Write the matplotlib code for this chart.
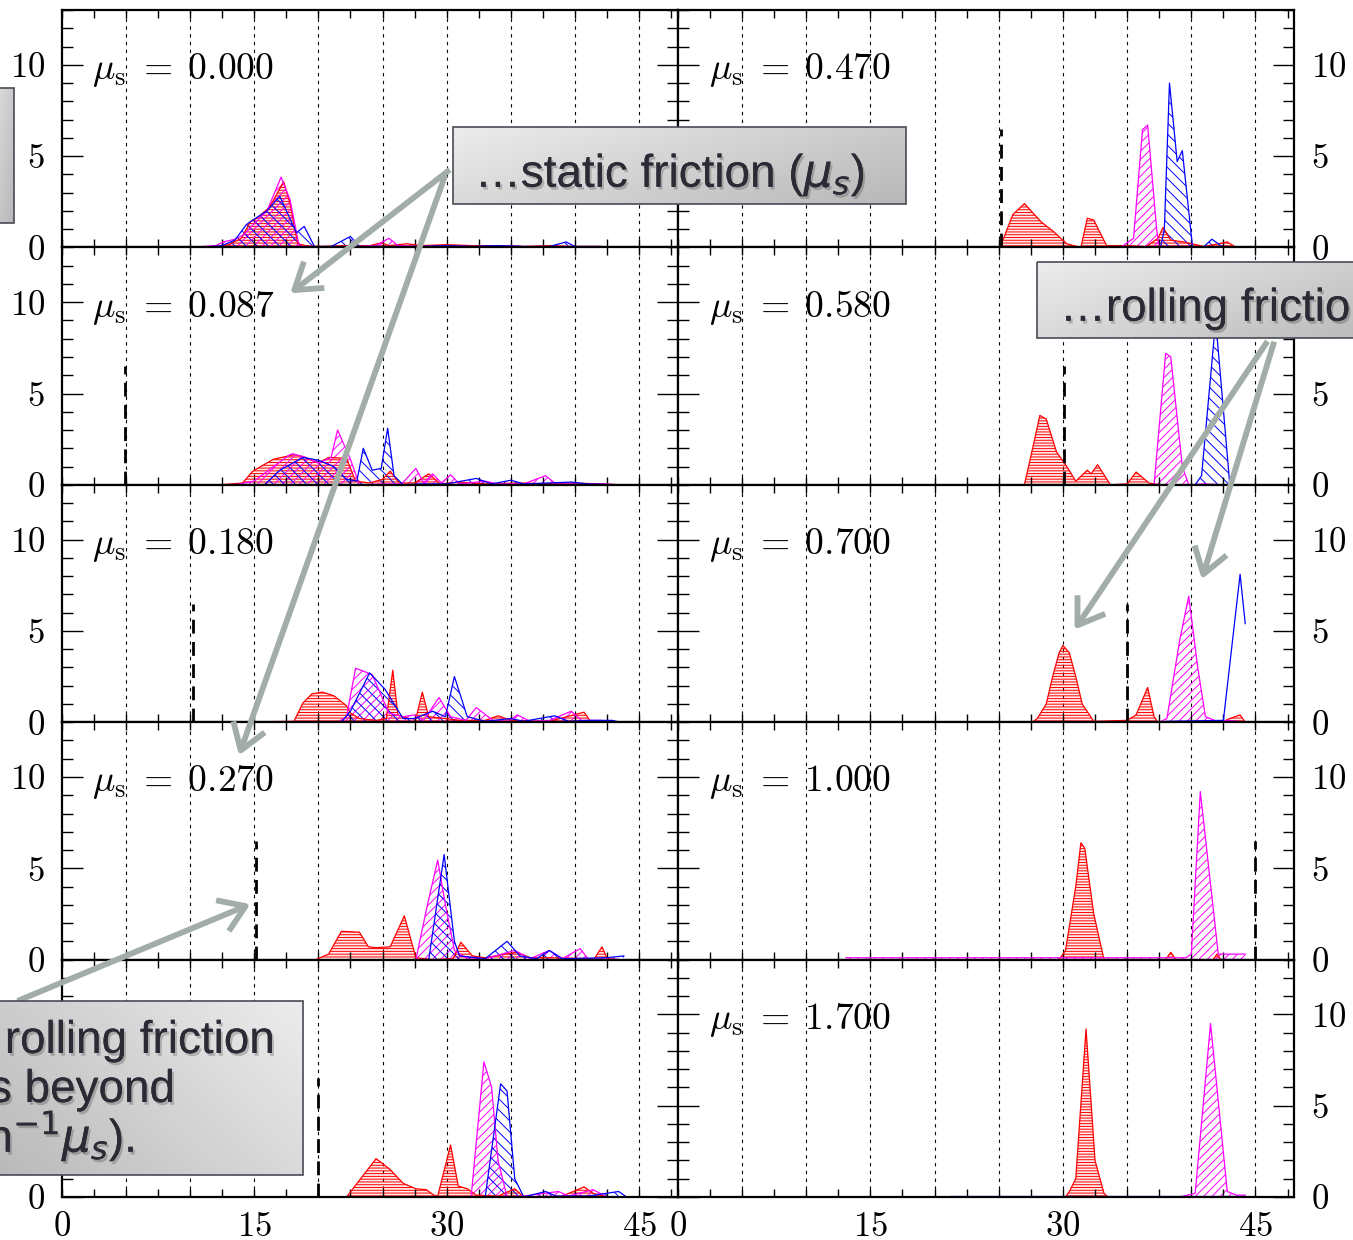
import numpy as np
import matplotlib
matplotlib.use("Agg")
from matplotlib import pyplot as plt
from matplotlib.patches import Rectangle, FancyArrowPatch
from matplotlib.colors import LinearSegmentedColormap
import matplotlib.patheffects as pe

plt.rcParams['font.family'] = 'cmr10'
plt.rcParams['mathtext.fontset'] = 'cm'
plt.rcParams['axes.formatter.use_mathtext'] = True
plt.rcParams['hatch.linewidth'] = 0.7

# static friction of each panel (left column top->bottom, then right column)
mu_s = [0.000, 0.087, 0.180, 0.270, 0.364, 0.470, 0.580, 0.700, 1.000, 1.700]
mu_labels = ["0.000", "0.087", "0.180", "0.270", None,
             "0.470", "0.580", "0.700", "1.000", "1.700"]

# histograms: (angle in degrees, count)
red_000 = [(10, 0), (12, 0.05), (13, 0.15), (14, 0.5), (14.7, 1.4), (15.2, 1.6), (16.2, 2.2),
           (17.3, 3.6), (17.8, 2.4), (18.4, 0.2), (19, 0.1), (20, 0.05), (22, 0.1), (24, 0.1),
           (24.9, 0.25), (25.5, 0.1), (26.9, 0.2), (28, 0.1), (30, 0.15), (32, 0.1), (34, 0.1),
           (36, 0.05), (38, 0.1), (40, 0.05), (42, 0.05), (43, 0)]
mag_000 = [(10, 0), (12, 0.1), (12.6, 0.3), (13.5, 0.45), (14.2, 0.7), (15, 1.3), (16, 2.0),
           (17.1, 3.85), (17.8, 2.6), (18.5, 0.1), (19, 0.05), (21, 0.05), (23, 0.05), (24.5, 0.1),
           (25.5, 0.5), (26.2, 0.1), (28, 0.05), (30, 0.1), (32, 0.05), (34, 0.1), (36, 0.05),
           (38, 0.05), (40, 0.05), (42, 0.05), (43, 0)]
blue_000 = [(11, 0), (12.5, 0.1), (13.5, 0.4), (14.4, 1.25), (14.9, 1.5), (16, 2.0), (17.0, 2.8),
            (18.3, 0.8), (18.9, 1.15), (19.7, 0.05), (21, 0.05), (22.5, 0.6), (23.2, 0.05),
            (25, 0.05), (28, 0.05), (30, 0.1), (32, 0.05), (34, 0.1), (36, 0.05), (38, 0.05),
            (39.3, 0.3), (40, 0.05), (42, 0.05), (43, 0)]

red_087 = [(12.4, 0), (14.1, 0.1), (14.9, 0.75), (16.5, 1.4), (18.1, 1.65), (18.8, 1.55),
           (20.0, 1.2), (20.8, 1.5), (22.2, 1.45), (22.9, 0.2), (24.0, 0.1), (25.0, 0.3),
           (25.6, 0.75), (26.3, 0.1), (27.5, 0.1), (28.6, 0.6), (29.5, 0.05), (31.0, 0.15),
           (33, 0.05), (35.7, 0.1), (38, 0.05), (39.7, 0.1), (42, 0.05), (43.5, 0)]
mag_087 = [(13.5, 0), (15, 0.2), (16.5, 1.0), (17.8, 1.65), (18.0, 1.7), (19.0, 1.5), (20.0, 1.2),
           (21.0, 1.5), (21.5, 3.0), (22.5, 1.4), (23.2, 0.0), (25, 0.05), (26.5, 0.05),
           (27.6, 0.9), (28.2, 0.1), (28.9, 0.6), (29.6, 0.1), (30.3, 0.55), (31, 0.05), (33, 0.2),
           (34, 0.05), (36, 0.05), (37.7, 0.5), (38.5, 0.05), (40, 0.05), (42, 0.05), (43.5, 0)]
blue_087 = [(15.8, 0), (17, 0.8), (18.8, 1.5), (20.0, 1.35), (21.2, 1.0), (22.2, 0.3), (23.0, 0.2),
            (23.5, 2.0), (24.2, 0.8), (24.9, 0.9), (25.4, 3.1), (25.9, 0.5), (26.6, 0.0),
            (28, 0.05), (30, 0.05), (32.3, 0.35), (33.5, 0.05), (35, 0.25), (36, 0.05),
            (39.7, 0.15), (41, 0.05), (43.5, 0)]

red_180 = [(12.7, 0), (18.1, 0.05), (18.8, 1.05), (19.5, 1.55), (20.3, 1.65), (21.2, 1.45),
           (22.2, 0.9), (22.5, 0.5), (23.2, 0.2), (24.5, 0.1), (25.3, 0.2), (25.8, 2.85),
           (26.2, 0.4), (27.0, 0.2), (27.6, 0.2), (28.1, 1.65), (28.6, 0.3), (29.9, 0.2),
           (31, 0.1), (33, 0.1), (34, 0.35), (35, 0.1), (38, 0.05), (40.7, 0.55), (41.2, 0.05),
           (43.1, 0)]
mag_180 = [(21.5, 0), (22.2, 0.3), (22.9, 2.95), (23.5, 2.8), (24.2, 2.6), (25.5, 0.5), (26.6, 0.3),
           (27.5, 0.4), (28.2, 0.1), (29.4, 1.35), (30.3, 0.3), (31.5, 0.1), (32.3, 0.8),
           (33.6, 0.1), (34.8, 0.05), (35.5, 0.4), (36.5, 0.05), (38, 0.1), (39.7, 0.6),
           (40.5, 0.1), (42, 0.1), (43.1, 0)]
blue_180 = [(21.8, 0), (22.5, 0.6), (24.0, 2.7), (25.2, 1.8), (26.6, 0.2), (27.5, 0.2), (28.9, 0.6),
            (29.9, 0.3), (30.6, 2.5), (31.6, 0.3), (33, 0.05), (35, 0.2), (36, 0.05), (38.4, 0.35),
            (39.5, 0.05), (41, 0.1), (42.9, 0.1), (43.5, 0)]

red_270 = [(19.8, 0), (20.8, 0.3), (21.8, 1.55), (23.2, 1.5), (23.9, 0.7), (24.5, 0.65), (25.6, 0.7),
           (26.7, 2.4), (27.6, 0.1), (28.9, 0.0), (30.5, 0.05), (31.1, 0.95), (32.0, 0.2),
           (33, 0.1), (34.5, 0.3), (35.5, 0.4), (36.5, 0.1), (38, 0.1), (41.5, 0.05), (42.1, 0.7),
           (42.5, 0.05), (43.5, 0)]
mag_270 = [(27.6, 0), (28.5, 3.0), (29.3, 5.45), (29.9, 3.0), (30.6, 0.5), (31.5, 0.1), (33, 0.05),
           (35.3, 0.5), (36.5, 0.05), (38.0, 0.5), (39, 0.05), (40.4, 0.6), (41, 0.05), (43.5, 0)]
blue_270 = [(28.6, 0), (29.8, 5.75), (30.6, 1.0), (31.0, 0.2), (33, 0.05), (34.7, 1.0), (35.7, 0.2),
            (37, 0.05), (38.0, 0.5), (39, 0.05), (42.4, 0.1), (43.8, 0.2)]

red_364 = [(22.2, 0), (24.5, 2.1), (25.6, 1.5), (26.6, 0.75), (27.6, 0.45), (28.4, 0.4), (29.0, 0.1),
           (29.3, 0.05), (30.3, 2.85), (30.9, 0.6), (31.6, 0.45), (32.3, 0.1), (34, 0.05),
           (35.3, 0.45), (36.0, 0.0), (39, 0.05), (40.7, 0.55), (41.4, 0.2), (42.5, 0)]
mag_364 = [(31.9, 0), (32.9, 7.4), (33.5, 6.0), (34.0, 2.0), (34.7, 0.0), (36, 0.05), (38.7, 0.3),
           (39.5, 0.05), (41.4, 0.4), (42.5, 0)]
blue_364 = [(33.0, 0), (34.2, 6.2), (34.7, 5.8), (35.3, 1.0), (36.0, 0.0), (37.7, 0.3), (38.5, 0.05),
            (41, 0.05), (43.4, 0.3), (44, 0)]

red_470 = [(25.1, 0), (26.1, 1.8), (27.0, 2.4), (28.3, 1.4), (29.3, 0.85), (30.3, 0.2), (31.4, 0.0),
           (31.9, 1.6), (32.4, 1.5), (33.4, 0.1), (35.1, 0.1), (36.5, 0.05), (37.4, 0.5),
           (37.8, 1.1), (38.4, 0.4), (39.4, 0.3), (41, 0.05), (42.8, 0.3), (43.5, 0)]
mag_470 = [(34.7, 0.1), (35.5, 0.5), (36.2, 6.45), (36.6, 6.7), (37.3, 1.0), (37.5, 0.0),
           (38.5, 0.05), (40, 0.05), (42, 0)]
blue_470 = [(37.6, 0), (37.9, 1.0), (38.3, 9.0), (38.9, 4.7), (39.3, 5.3), (40.1, 0.0), (41.0, 0.05),
            (41.6, 0.45), (42.5, 0)]

red_580 = [(27.0, 0), (27.8, 2.5), (28.2, 3.8), (28.7, 3.6), (29.5, 1.8), (30.3, 1.0), (31.0, 0.2),
           (31.9, 0.8), (32.2, 0.6), (32.7, 1.1), (33.7, 0.0), (35.0, 0.05), (35.7, 0.7),
           (36.7, 0.1), (37.5, 0)]
mag_580 = [(37.1, 0), (38.0, 7.2), (38.4, 7.0), (39.3, 1.0), (39.8, 0.0), (41, 0.05), (42.5, 0)]
blue_580 = [(40.3, 0), (40.8, 0.5), (41.9, 9.0), (43.0, 0.0), (43.5, 0)]

red_700 = [(27.6, 0), (28.0, 0.2), (28.7, 1.0), (29.2, 2.5), (29.7, 3.8), (30.0, 4.2), (30.5, 3.8),
           (31.0, 2.5), (31.5, 1.0), (32.4, 0.05), (35.0, 0.1), (35.7, 0.4), (36.6, 1.9),
           (37.1, 0.3), (37.4, 0.0), (42.5, 0.0), (42.8, 0.15), (43.8, 0.4), (44.2, 0)]
mag_700 = [(37.5, 0), (38.1, 0.2), (39.1, 4.5), (39.8, 6.9), (40.5, 3.0), (41.1, 0.3), (42, 0.05),
           (43, 0.1), (44.2, 0)]
blue_700 = [(38, 0.05), (42.5, 0.1), (43.8, 8.1), (44.2, 5.4)]

red_1000 = [(29.7, 0), (30.2, 0.5), (31.0, 4.0), (31.4, 6.4), (31.7, 6.1), (32.4, 2.5), (33.2, 0.0),
            (38.0, 0.0), (38.4, 0.4), (38.8, 0.0), (41.7, 0.0), (42.0, 0.3), (42.3, 0)]
mag_1000 = [(13.1, 0.1), (39.6, 0.1), (40.0, 0.3), (40.7, 9.2), (42.1, 0.3), (42.5, 0.3), (44.2, 0.3)]
blue_1000 = [(41.8, 0.05), (44.2, 0.05)]

red_1700 = [(30.2, 0), (30.5, 0.3), (31.0, 1.0), (31.8, 9.2), (32.5, 2.0), (33.2, 0.2), (33.5, 0)]
mag_1700 = [(39.1, 0), (40.3, 0.2), (41.5, 9.5), (42.8, 0.3), (43.5, 0.1), (44.2, 0.1)]
blue_1700 = [(21.2, 0.05), (44.2, 0.05)]

red_curves = [red_000, red_087, red_180, red_270, red_364,
              red_470, red_580, red_700, red_1000, red_1700]
mag_curves = [mag_000, mag_087, mag_180, mag_270, mag_364,
              mag_470, mag_580, mag_700, mag_1000, mag_1700]
blue_curves = [blue_000, blue_087, blue_180, blue_270, blue_364,
               blue_470, blue_580, blue_700, blue_1000, blue_1700]
blue_filled = [True] * 7 + [False] + [True, True]

grid_x = [5, 10, 15, 20, 25, 30, 35, 40, 45]
marker_height = 6.5


def draw(ax, pts, color, hatch, fill=True, face='none'):
    x = [p[0] for p in pts]
    y = [p[1] for p in pts]
    if fill:
        ax.fill_between(x, 0, y, facecolor=face, edgecolor=color, hatch=hatch, linewidth=0)
    ax.plot(x, y, color=color, lw=0.9)


fig, axes = plt.subplots(5, 2, figsize=(13.53, 12.4), dpi=100,
                         gridspec_kw=dict(hspace=0, wspace=0))
fig.subplots_adjust(left=0.0455, right=0.9564, top=0.9919, bottom=0.0347)

for k in range(10):
    col, row = k // 5, k % 5
    ax = axes[row, col]
    for gx in grid_x:
        ax.axvline(gx, color='k', lw=0.8, ls=(0, (3, 4)), zorder=0)
    draw(ax, red_curves[k], 'red', '------', face=(1, 0, 0, 0.08))
    draw(ax, mag_curves[k], 'magenta', '////')
    draw(ax, blue_curves[k], 'blue', '\\\\\\', fill=blue_filled[k])
    theta = np.degrees(np.arctan(mu_s[k]))
    if 0 < theta < 48:
        ax.plot([theta, theta], [0, marker_height], color='k', lw=2.0, ls=(0, (5, 3)))
    if mu_labels[k] is not None:
        ax.text(2.4, 9.7, r'$\mu_{\mathrm{s}}\;=\;' + mu_labels[k] + '$',
                fontsize=27, va='center', ha='left')
    ax.set_xlim(0, 48)
    ax.set_ylim(0, 13)
    ax.set_xticks([0, 15, 30, 45])
    ax.set_xticks(np.arange(0, 48.1, 2.5), minor=True)
    ax.set_yticks([0, 5, 10])
    ax.set_yticks(np.arange(0, 14, 1), minor=True)
    ax.tick_params(which='both', direction='in', top=True, bottom=True, left=True, right=True,
                   width=1.0, labelsize=25)
    ax.tick_params(axis='x', which='both', length=6, pad=10)
    ax.tick_params(axis='y', which='major', length=15, pad=12)
    ax.tick_params(axis='y', which='minor', length=8)
    ax.tick_params(labelbottom=(row == 4), labelleft=(col == 0), labelright=(col == 1))
    for s in ax.spines.values():
        s.set_linewidth(1.6)

# annotation overlay in pixel coordinates
ov = fig.add_axes([0, 0, 1, 1], zorder=10)
ov.patch.set_alpha(0)
ov.axis('off')

cmap = LinearSegmentedColormap.from_list('box', ['#ececec', '#b8b8b8'])
gx_, gy_ = np.meshgrid(np.linspace(0, 1, 60), np.linspace(0, 1, 30))


def box(x0, y0, x1, y1, flip=False):
    g = 0.35 * gy_ + 0.65 * (1 - gx_ if flip else gx_)
    ov.imshow(g, extent=(x0, x1, y1, y0), cmap=cmap, aspect='auto', vmin=0, vmax=1,
              interpolation='bilinear', zorder=2)
    ov.add_patch(Rectangle((x0, y0), x1 - x0, y1 - y0, fill=False, ec='#4a4a55', lw=1.2, zorder=3))


def arrow(p0, p1):
    ov.add_patch(FancyArrowPatch(p0, p1, arrowstyle='->,head_length=0.9,head_width=0.6',
                                 mutation_scale=20, color='#a3ada8', lw=4.2, zorder=1,
                                 capstyle='butt'))


shadow = [pe.withSimplePatchShadow(offset=(1.5, -2), shadow_rgbFace='k', alpha=0.2), pe.Normal()]
tkw = dict(family='Liberation Sans', fontsize=33, color='#2b2b36', math_fontfamily='dejavusans',
           path_effects=shadow, zorder=4)

arrow((452, 168), (288, 295))
arrow((446, 173), (238, 758))
arrow((1269, 339), (1073, 632))
arrow((1275, 339), (1201, 582))
arrow((15, 1002), (253, 903))

box(-20, 88, 14, 223)
box(453, 127, 906, 204)
ov.text(475, 187, '\u2026static friction ($\\mu_s$)', ha='left', va='baseline', **tkw)
box(1037, 262, 1400, 338)
ov.text(1060, 321, '\u2026rolling friction ($\\mu_r$)', ha='left', va='baseline', **tkw)
box(-20, 1001, 303, 1175, flip=True)
ov.text(275, 1053, 'When in motion, rolling friction', ha='right', va='baseline', **tkw)
ov.text(175, 1102, 'dominates beyond', ha='right', va='baseline', **tkw)
ov.text(135, 1152, '(\u03b8 = tan$^{-1}\\mu_s$).', ha='right', va='baseline', **tkw)

ov.set_xlim(0, 1353)
ov.set_ylim(1240, 0)

fig.savefig('out.png', dpi=100)
